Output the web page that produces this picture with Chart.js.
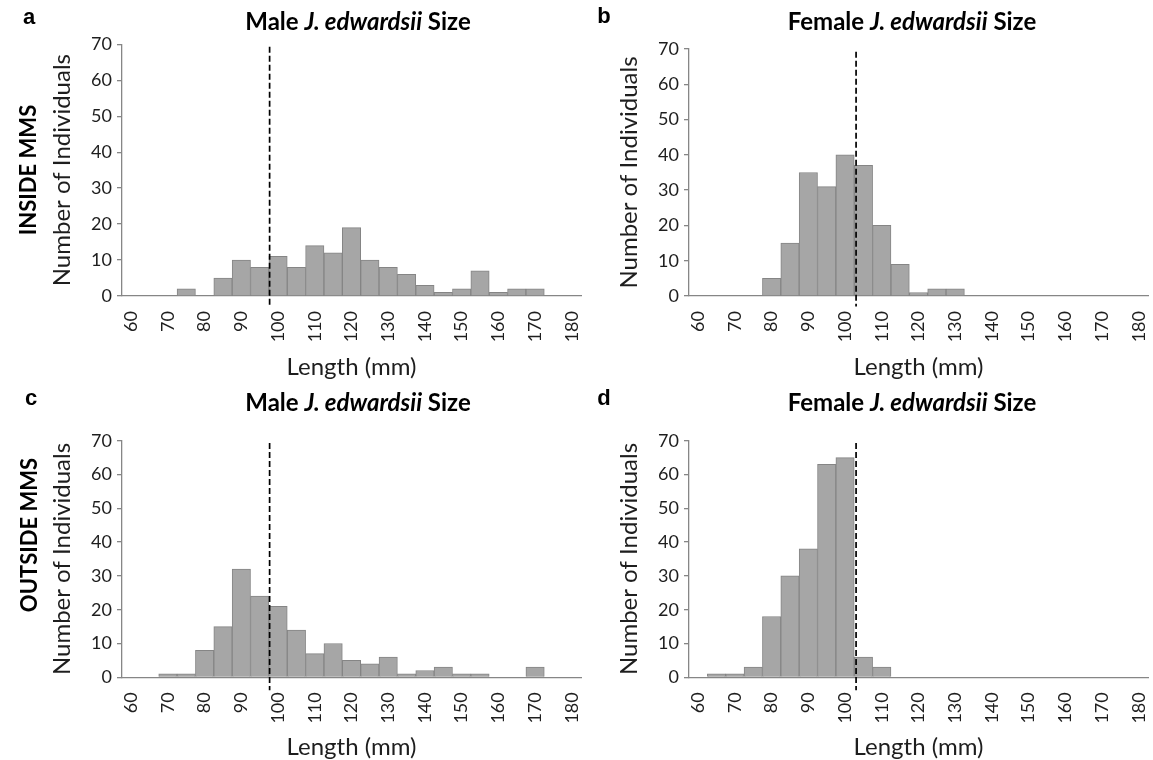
<!DOCTYPE html>
<html>
<head>
<meta charset="utf-8">
<script src="https://cdn.jsdelivr.net/npm/chart.js@4.4.1/dist/chart.umd.min.js"></script>
<style>
html,body{margin:0;padding:0;background:#fff;}
#wrap{position:relative;width:1153px;height:760px;overflow:hidden;background:#fff;}
#wrap canvas{position:absolute;left:0;top:0;}
.t{position:absolute;transform:translate(-50%,-50%);white-space:nowrap;font-family:Lato,sans-serif;font-weight:700;font-size:24px;color:#000;}
.lt{position:absolute;transform:translate(-50%,-50%);font-family:"Liberation Sans",Arial,sans-serif;font-weight:700;font-size:22px;color:#000;}
.row{position:absolute;transform:translate(-50%,-50%) rotate(-90deg);white-space:nowrap;font-family:Lato,sans-serif;font-weight:700;font-size:22px;color:#000;}
</style>
</head>
<body>
<div id="wrap">
  <canvas id="ca" width="1153" height="760"></canvas>
  <canvas id="cb" width="1153" height="760"></canvas>
  <canvas id="cc" width="1153" height="760"></canvas>
  <canvas id="cd" width="1153" height="760"></canvas>
  <div class="lt" style="left:29px;top:17px;">a</div>
  <div class="lt" style="left:604px;top:16px;">b</div>
  <div class="lt" style="left:31px;top:398px;">c</div>
  <div class="lt" style="left:604px;top:398px;">d</div>
  <div class="t" style="left:358px;top:20px;">Male <i>J. edwardsii</i> Size</div>
  <div class="t" style="left:912px;top:20px;">Female <i>J. edwardsii</i> Size</div>
  <div class="t" style="left:358px;top:401px;">Male <i>J. edwardsii</i> Size</div>
  <div class="t" style="left:912px;top:401px;">Female <i>J. edwardsii</i> Size</div>
  <div class="row" style="left:27px;top:170px;">INSIDE MMS</div>
  <div class="row" style="left:28px;top:535px;">OUTSIDE MMS</div>
</div>
<script>
// ---- data ----
const categories = ['60','65','70','75','80','85','90','95','100','105','110','115','120','125','130','135','140','145','150','155','160','165','170','175','180'];
const tickLabels = ['60','70','80','90','100','110','120','130','140','150','160','170','180'];
const maleInside    = [0,0,0,2,0,5,10,8,11,8,14,12,19,10,8,6,3,1,2,7,1,2,2,0,0];
const femaleInside  = [0,0,0,0,5,15,35,31,40,37,20,9,1,2,2,0,0,0,0,0,0,0,0,0,0];
const maleOutside   = [0,0,1,1,8,15,32,24,21,14,7,10,5,4,6,1,2,3,1,1,0,0,3,0,0];
const femaleOutside = [0,1,1,3,18,30,38,63,65,6,3,0,0,0,0,0,0,0,0,0,0,0,0,0,0];
const maleCutoff = 97.7;     // mm, dashed reference line
const femaleCutoff = 103;    // mm, dashed reference line
const binRange = [57.5, 182.5]; // mm span covered by the 5-mm bins
const yRange = [0, 70];
const yStep = 10;

// ---- layout / style ----
const W = 1153, H = 760;
const TITLE_SIZE = 24, TICK_SIZE = 18;
const TITLE_OFF = TITLE_SIZE * 1.2 / 2 + 4;
const Y_W = 60 + TITLE_OFF;
const FONT = 'Lato, sans-serif';
const AX = '#868686';
const TXT = '#1e1e1e';

function makeChart(id, p, values, cutoff, dashTop, dashBottom) {
  return new Chart(document.getElementById(id), {
    type: 'bar',
    data: {
      labels: categories,
      datasets: [
        {
          type: 'line', order: 0, xAxisID: 'x2', yAxisID: 'y',
          data: [{x: cutoff, y: dashTop}, {x: cutoff, y: dashBottom}],
          borderColor: '#000', borderWidth: 1.7, borderDash: [6, 3],
          pointRadius: 0, clip: false, fill: false
        },
        {
          type: 'bar', order: 1, xAxisID: 'x', yAxisID: 'y',
          data: values, grouped: false,
          backgroundColor: '#a6a6a6', borderColor: '#858585', borderWidth: 1,
          barPercentage: 1, categoryPercentage: 1, borderSkipped: 'bottom'
        }
      ]
    },
    options: {
      responsive: false, animation: false, devicePixelRatio: 1,
      layout: {padding: {left: p.L - Y_W, top: p.T, right: W - p.R, bottom: H - (p.XT + TITLE_OFF)}},
      plugins: {legend: {display: false}, tooltip: {enabled: false}, title: {display: false}},
      scales: {
        x: {
          type: 'category', position: 'bottom', offset: true,
          grid: {display: false, drawTicks: false},
          border: {display: true, color: AX, width: 1.3},
          ticks: {
            autoSkip: false, minRotation: 90, maxRotation: 90, padding: 15,
            color: TXT, font: {family: FONT, size: TICK_SIZE},
            callback: (v, i) => tickLabels.includes(categories[i]) ? categories[i] : ''
          },
          title: {display: true, text: 'Length (mm)', color: TXT, font: {family: FONT, size: TITLE_SIZE}, padding: {top: 4, bottom: 4}},
          afterFit: s => { s.height = p.XT + TITLE_OFF - p.B; s.paddingLeft = 0; s.paddingRight = 0; }
        },
        x2: {type: 'linear', display: false, offset: false, grid: {offset: false}, min: binRange[0], max: binRange[1]},
        y: {
          type: 'linear', position: 'left', min: yRange[0], max: yRange[1],
          ticks: {stepSize: yStep, padding: 5, color: TXT, font: {family: FONT, size: TICK_SIZE}},
          grid: {display: true, drawOnChartArea: false, drawTicks: true, tickLength: 5, color: AX, lineWidth: 1.3},
          border: {display: true, color: AX, width: 1.3},
          title: {display: true, text: 'Number of Individuals', color: TXT, font: {family: FONT, size: TITLE_SIZE}, padding: {top: 4, bottom: 4}},
          afterFit: s => { s.width = Y_W; s.paddingTop = 0; s.paddingBottom = 0; }
        }
      }
    }
  });
}

makeChart('ca', {L: 122, R: 581, T: 44.3, B: 296, XT: 367}, maleInside, maleCutoff, 69.3, -2.8);
makeChart('cb', {L: 689, R: 1148, T: 49, B: 296, XT: 367}, femaleInside, femaleCutoff, 69.2, -3);
makeChart('cc', {L: 122, R: 581, T: 440.7, B: 677.3, XT: 747}, maleOutside, maleCutoff, 69.3, -3.8);
makeChart('cd', {L: 689, R: 1148, T: 440.7, B: 677.3, XT: 747}, femaleOutside, femaleCutoff, 69.3, -3.8);
</script>
</body>
</html>
